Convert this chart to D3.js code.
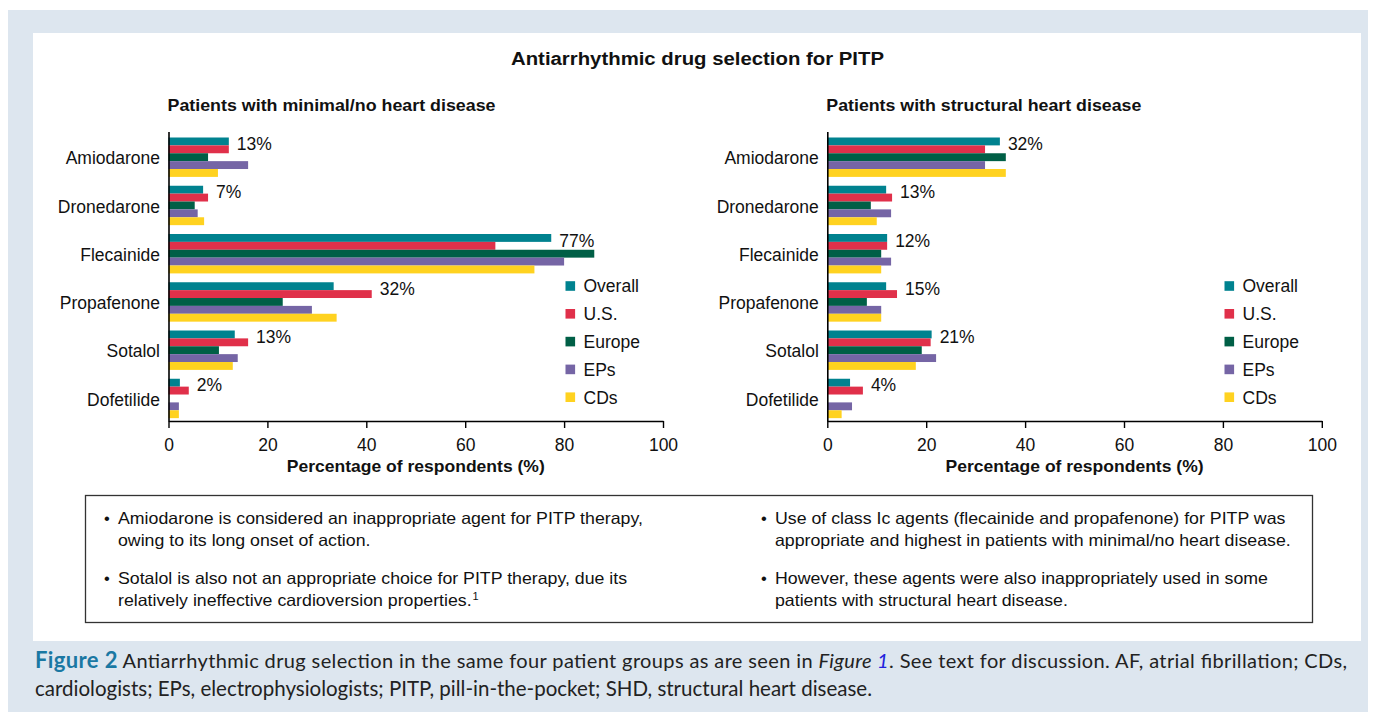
<!DOCTYPE html>
<html>
<head>
<meta charset="utf-8">
<script src="https://cdn.jsdelivr.net/npm/d3@7"></script>
<style>
  body { margin: 0; background: #fff; }
  svg text { font-family: Arial, "Liberation Sans", sans-serif; fill: #111; }
</style>
</head>
<body>
<div id="chart"></div>
<script>
var W = 1373, H = 720;

// data
var drugs = ["Amiodarone", "Dronedarone", "Flecainide", "Propafenone", "Sotalol", "Dofetilide"];
var groups = ["Overall", "U.S.", "Europe", "EPs", "CDs"];
var groupColors = ["#00828f", "#e0304a", "#005f46", "#7565a5", "#ffd220"];

// values per drug, in group order
var minimalValues = [
  [12.2, 12.2, 8.0, 16.1, 10.0],
  [7.0, 8.0, 5.3, 5.9, 7.2],
  [77.4, 66.1, 86.1, 80.0, 74.0],
  [33.4, 41.1, 23.1, 29.0, 34.0],
  [13.4, 16.1, 10.2, 14.0, 13.0],
  [2.3, 4.1, 0, 2.1, 2.1]
];
var minimalLabels = ["13%", "7%", "77%", "32%", "13%", "2%"];

var structuralValues = [
  [34.9, 31.9, 36.1, 31.9, 36.1],
  [11.9, 13.1, 8.8, 12.9, 10.0],
  [12.1, 12.1, 10.9, 12.9, 10.9],
  [11.9, 14.1, 8.0, 10.9, 10.9],
  [21.1, 20.9, 19.1, 22.0, 17.9],
  [4.6, 7.2, 0, 5.0, 2.9]
];
var structuralLabels = ["32%", "13%", "12%", "15%", "21%", "4%"];

var xTicks = [0, 20, 40, 60, 80, 100];

var svg = d3.select("#chart").append("svg")
    .attr("width", W)
    .attr("height", H);

// widen a text to a given length (the source art is a bit stretched)
function fitWidth(sel, len) {
  sel.attr("textLength", len).attr("lengthAdjust", "spacingAndGlyphs");
}
function stretch(sel, k) {
  sel.each(function() {
    var w = this.getComputedTextLength();
    d3.select(this).attr("textLength", w * k).attr("lengthAdjust", "spacingAndGlyphs");
  });
}

// background frames
svg.append("rect").attr("x", 8).attr("y", 10).attr("width", 1360).attr("height", 702).attr("fill", "#dde6ef");
svg.append("rect").attr("x", 33).attr("y", 33).attr("width", 1328).attr("height", 608).attr("fill", "#fff");

svg.append("text")
    .attr("x", 511).attr("y", 65)
    .style("font-size", "18px").style("font-weight", "bold")
    .text("Antiarrhythmic drug selection for PITP")
    .call(fitWidth, 373);

function drawPanel(values, labels, left, subtitle, subW, legendX) {
  var x = d3.scaleLinear().domain([0, 100]).range([left, left + 494.5]);
  var y = d3.scaleBand().domain(drugs).range([131.5, 421]).padding(0);
  var yInner = d3.scaleBand().domain(groups).range([6, 45.4]).padding(0);

  var g = svg.append("g");

  g.append("text")
      .attr("x", left - 1).attr("y", 111)
      .style("font-size", "16.5px").style("font-weight", "bold")
      .text(subtitle)
      .call(fitWidth, subW);

  var rows = g.selectAll(".drug")
      .data(drugs)
      .enter().append("g")
      .attr("class", "drug")
      .attr("transform", function(d) { return "translate(0," + y(d) + ")"; });

  rows.selectAll("rect")
      .data(function(d, i) { return values[i]; })
      .enter().append("rect")
      .attr("x", x(0))
      .attr("y", function(d, j) { return yInner(groups[j]); })
      .attr("width", function(d) { return x(d) - x(0); })
      .attr("height", yInner.bandwidth())
      .attr("fill", function(d, j) { return groupColors[j]; });

  rows.append("text")
      .attr("x", function(d, i) { return x(Math.max(values[i][0], values[i][1])) + 8; })
      .attr("y", yInner("Overall") + yInner.bandwidth() / 2)
      .attr("dy", "0.5em")
      .style("font-size", "17.5px")
      .text(function(d, i) { return labels[i]; });

  var xAxis = g.append("g")
      .attr("transform", "translate(0,421)")
      .call(d3.axisBottom(x).tickValues(xTicks).tickSize(7).tickSizeOuter(0).tickPadding(11));
  xAxis.select(".domain").attr("stroke", "#000").attr("stroke-width", 1.6);
  xAxis.selectAll(".tick line").attr("stroke", "#000").attr("stroke-width", 1.4);
  xAxis.selectAll(".tick text").style("font-size", "17.5px").style("font-family", "Arial, 'Liberation Sans', sans-serif").attr("fill", "#111");

  var yAxis = g.append("g")
      .attr("transform", "translate(" + x(0) + ",0)")
      .call(d3.axisLeft(y).tickSize(0).tickSizeOuter(0).tickPadding(8.5));
  yAxis.select(".domain").attr("stroke", "#000").attr("stroke-width", 1.6);
  yAxis.selectAll(".tick text").attr("dy", "0.5em").style("font-size", "17.5px").style("font-family", "Arial, 'Liberation Sans', sans-serif").attr("fill", "#111");

  g.append("text")
      .attr("x", (x(0) + x(100)) / 2 - 129).attr("y", 472)
      .style("font-size", "16.5px").style("font-weight", "bold")
      .text("Percentage of respondents (%)")
      .call(fitWidth, 258);

  var legend = g.selectAll(".legend")
      .data(groups)
      .enter().append("g")
      .attr("class", "legend")
      .attr("transform", function(d, i) { return "translate(" + legendX + "," + (286 + i * 27.8) + ")"; });
  legend.append("rect")
      .attr("x", 0).attr("y", -4.8)
      .attr("width", 9.6).attr("height", 9.6)
      .attr("fill", function(d, i) { return groupColors[i]; });
  legend.append("text")
      .attr("x", 18).attr("dy", "0.36em")
      .style("font-size", "17.5px")
      .text(function(d) { return d; });
}

drawPanel(minimalValues, minimalLabels, 168.5, "Patients with minimal/no heart disease", 328, 565.5);
drawPanel(structuralValues, structuralLabels, 827.3, "Patients with structural heart disease", 315, 1224.5);

// notes box
svg.append("rect")
    .attr("x", 85.5).attr("y", 495.5).attr("width", 1227).attr("height", 127)
    .attr("fill", "#fff").attr("stroke", "#333").attr("stroke-width", 1.3);

var notes = [
  { x: 104, y: 524, lines: ["Amiodarone is considered an inappropriate agent for PITP therapy,", "owing to its long onset of action."] },
  { x: 104, y: 584, lines: ["Sotalol is also not an appropriate choice for PITP therapy, due its", "relatively ineffective cardioversion properties."], sup: "1" },
  { x: 761, y: 524, lines: ["Use of class Ic agents (flecainide and propafenone) for PITP was", "appropriate and highest in patients with minimal/no heart disease."] },
  { x: 761, y: 584, lines: ["However, these agents were also inappropriately used in some", "patients with structural heart disease."] }
];

notes.forEach(function(n) {
  svg.append("text").attr("x", n.x).attr("y", n.y).style("font-size", "16.5px").text("\u2022");
  n.lines.forEach(function(line, k) {
    var t = svg.append("text")
        .attr("x", n.x + 14).attr("y", n.y + k * 22)
        .style("font-size", "16.5px")
        .text(line);
    t.call(stretch, 1.075);
    if (n.sup && k === n.lines.length - 1) {
      svg.append("text")
          .attr("x", n.x + 14 + +t.attr("textLength") + 1)
          .attr("y", n.y + k * 22 - 6)
          .style("font-size", "11px")
          .text(n.sup);
    }
  });
});

// caption
var cap1 = svg.append("text")
    .attr("x", 35).attr("y", 668)
    .attr("textLength", 1312).attr("lengthAdjust", "spacing")
    .style("font-family", "'Gill Sans', Lato, sans-serif")
    .style("font-size", "20px").style("fill", "#222");
cap1.append("tspan").style("font-weight", "bold").style("font-size", "22px").style("fill", "#1a78a3").text("Figure 2");
cap1.append("tspan").text("  Antiarrhythmic drug selection in the same four patient groups as are seen in ");
cap1.append("tspan").style("font-style", "italic").text("Figure ");
cap1.append("tspan").style("font-style", "italic").style("fill", "#2222dd").text("1");
cap1.append("tspan").text(". See text for discussion. AF, atrial fibrillation; CDs,");

svg.append("text")
    .attr("x", 35).attr("y", 696)
    .style("font-family", "'Gill Sans', Lato, sans-serif")
    .style("font-size", "20.5px").style("fill", "#222")
    .text("cardiologists; EPs, electrophysiologists; PITP, pill-in-the-pocket; SHD, structural heart disease.");
</script>
</body>
</html>
